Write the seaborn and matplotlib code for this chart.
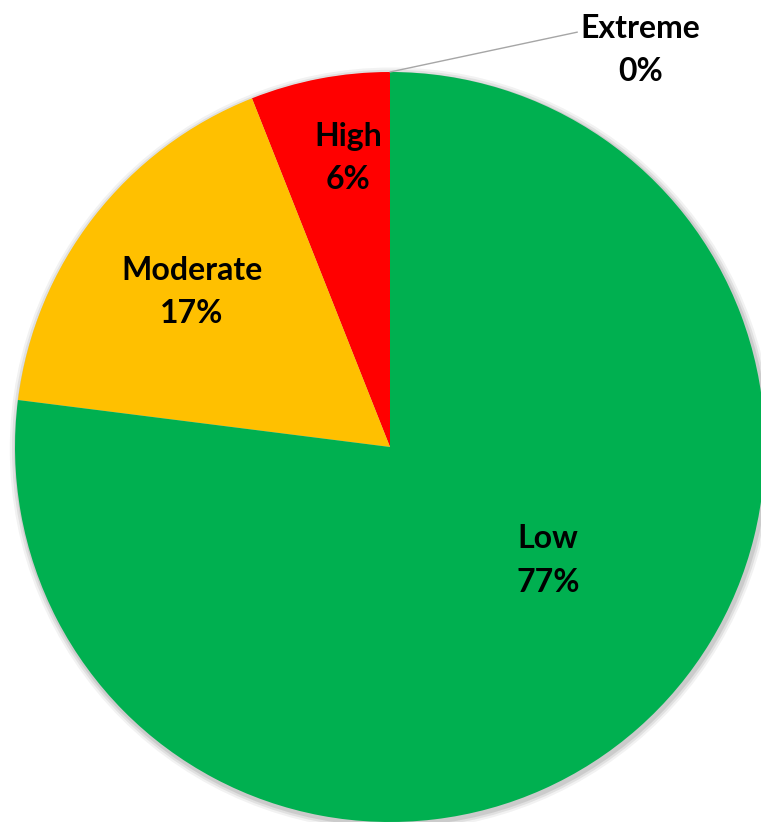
import matplotlib
matplotlib.use("Agg")
import matplotlib.pyplot as plt
import seaborn as sns

sns.set_theme(style="white")
plt.rcParams["font.family"] = ["Lato", "DejaVu Sans"]

# Risk categories, drawn counter-clockwise from 12 o'clock
categories = ["Extreme", "High", "Moderate", "Low"]
percentages = [0, 6, 17, 77]
colors = ["#7F7F7F", "#FF0000", "#FFC000", "#00B050"]

fig = plt.figure(figsize=(7.61, 8.22), dpi=100)
fig.patch.set_facecolor("white")
# Pie occupies a square region anchored at the left and bottom edges
ax = fig.add_axes([15 / 761, 0.0, 750 / 761, 750 / 822])

# Soft shadow around the disc
for r, a in [(1.018, 0.05), (1.012, 0.07), (1.006, 0.09)]:
    ax.add_patch(plt.Circle((0.004, -0.006), r, color="#000000", alpha=a,
                            lw=0, zorder=0, clip_on=False))

wedges, _ = ax.pie(percentages, colors=colors, startangle=90,
                   counterclock=True, radius=1.0,
                   wedgeprops=dict(linewidth=0))
for w in wedges:
    w.set_clip_on(False)
    w.set_zorder(1)

ax.set_xlim(-1, 1)
ax.set_ylim(-1, 1)
ax.set_aspect("equal")
ax.axis("off")

label_pos = {
    "High": (-0.112, 0.770),
    "Moderate": (-0.528, 0.414),
    "Low": (0.421, -0.303),
}
fs = 23
ls = 1.6
for cat, pct in zip(categories, percentages):
    text = f"{cat}\n{pct}%"
    if cat == "Extreme":
        ax.annotate(text, xy=(0.0, 1.0), xytext=(0.668, 1.058),
                    ha="center", va="center", fontsize=fs, fontweight="bold",
                    color="black", linespacing=ls, annotation_clip=False,
                    arrowprops=dict(arrowstyle="-", color="#A6A6A6", lw=1.0,
                                    shrinkA=0, shrinkB=0,
                                    relpos=(0.0, 0.76)))
    else:
        x, y = label_pos[cat]
        ax.text(x, y, text, ha="center", va="center", fontsize=fs,
                fontweight="bold", color="black", linespacing=ls, zorder=3)

fig.savefig("out.png", dpi=100, facecolor="white")
